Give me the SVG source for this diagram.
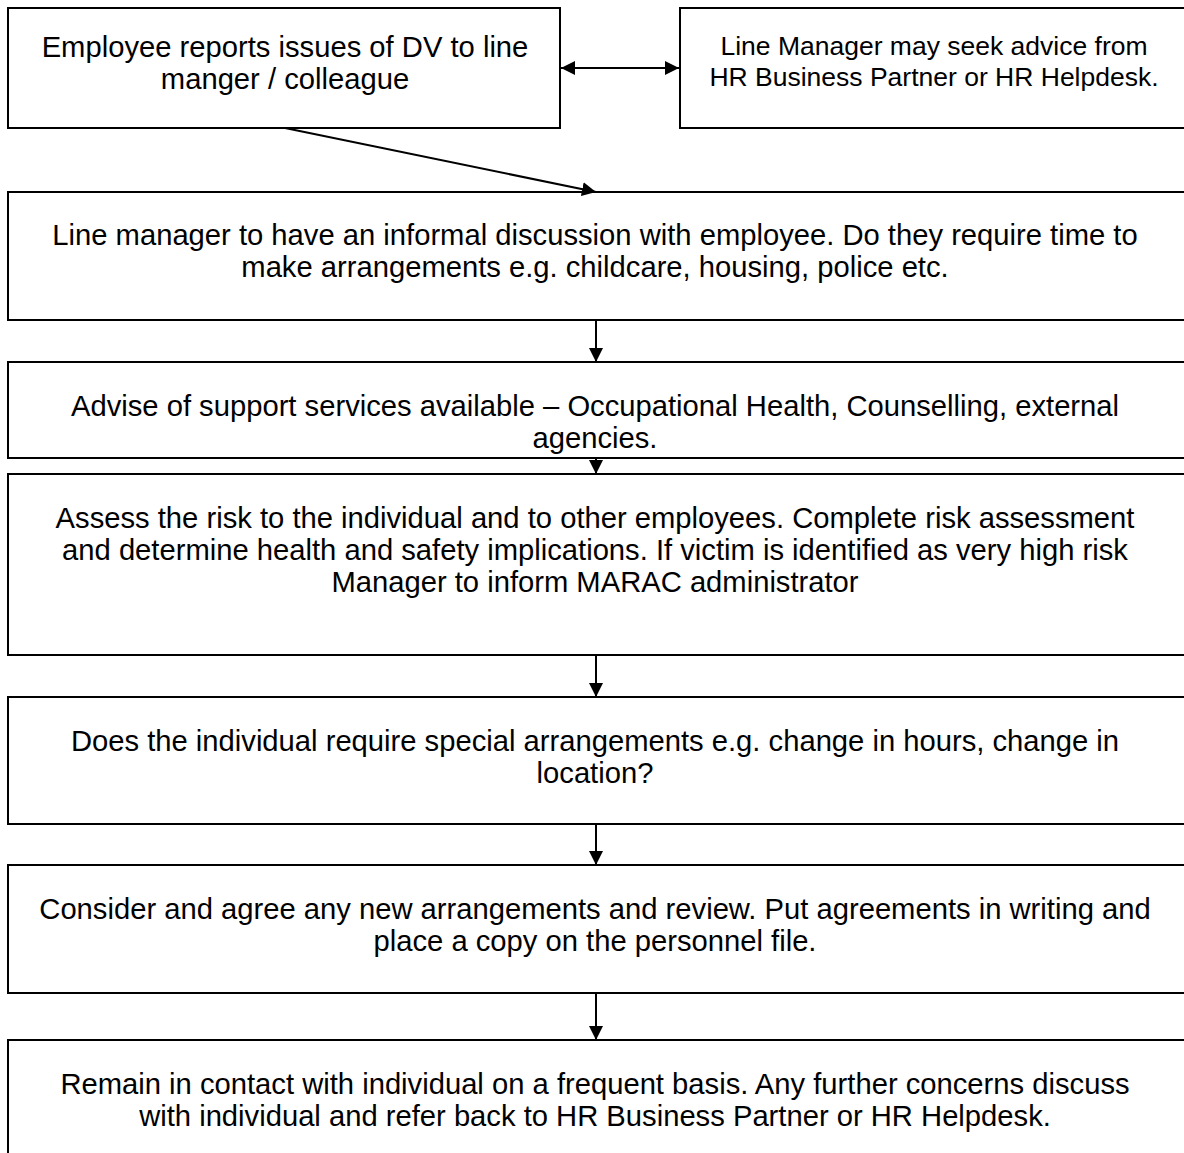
<svg xmlns="http://www.w3.org/2000/svg" width="1184" height="1153" viewBox="0 0 1184 1153">
<defs>
<marker id="ah" viewBox="0 0 10 10" refX="10" refY="5" markerWidth="14" markerHeight="14" markerUnits="userSpaceOnUse" orient="auto-start-reverse">
<path d="M0,0 L10,5 L0,10 z" fill="#000"/>
</marker>
<style>
rect{fill:#fff;stroke:#000;stroke-width:2}
text{font-family:"Liberation Sans",Arial,sans-serif;font-size:29.2px;fill:#000;text-anchor:middle}
.s{font-size:26.5px}
.c line{stroke:#000;stroke-width:2}
</style>
</defs>
<rect x="0" y="0" width="1184" height="1153" style="fill:#fff;stroke:none"/>
<g id="n1"><rect x="8" y="8" width="552" height="120"/><text x="285" y="57">Employee reports issues of DV to line</text><text x="285" y="89">manger / colleague</text></g>
<g id="n2"><rect x="680" y="8" width="520" height="120"/><text class="s" x="934" y="55">Line Manager may seek advice from</text><text class="s" x="934" y="86">HR Business Partner or HR Helpdesk.</text></g>
<g id="n3"><rect x="8" y="192" width="1200" height="128"/><text x="595" y="245">Line manager to have an informal discussion with employee. Do they require time to</text><text x="595" y="277">make arrangements e.g. childcare, housing, police etc.</text></g>
<g id="n4"><rect x="8" y="362" width="1200" height="96"/><text x="595" y="416">Advise of support services available – Occupational Health, Counselling, external</text><text x="595" y="448">agencies.</text></g>
<g id="n5"><rect x="8" y="474" width="1200" height="181"/><text x="595" y="528">Assess the risk to the individual and to other employees. Complete risk assessment</text><text x="595" y="560">and determine health and safety implications. If victim is identified as very high risk</text><text x="595" y="592">Manager to inform MARAC administrator</text></g>
<g id="n6"><rect x="8" y="697" width="1200" height="127"/><text x="595" y="751">Does the individual require special arrangements e.g. change in hours, change in</text><text x="595" y="783">location?</text></g>
<g id="n7"><rect x="8" y="865" width="1200" height="128"/><text x="595" y="919">Consider and agree any new arrangements and review. Put agreements in writing and</text><text x="595" y="951">place a copy on the personnel file.</text></g>
<g id="n8"><rect x="8" y="1040" width="1200" height="140"/><text x="595" y="1094">Remain in contact with individual on a frequent basis. Any further concerns discuss</text><text x="595" y="1126">with individual and refer back to HR Business Partner or HR Helpdesk.</text></g>
<g id="connectors" class="c">
<line x1="561" y1="68" x2="679" y2="68" marker-start="url(#ah)" marker-end="url(#ah)"/>
<line x1="285" y1="128" x2="596" y2="192" marker-end="url(#ah)"/>
<line x1="596" y1="320" x2="596" y2="362" marker-end="url(#ah)"/>
<line x1="596" y1="458" x2="596" y2="474" marker-end="url(#ah)"/>
<line x1="596" y1="655" x2="596" y2="697" marker-end="url(#ah)"/>
<line x1="596" y1="824" x2="596" y2="865" marker-end="url(#ah)"/>
<line x1="596" y1="993" x2="596" y2="1040" marker-end="url(#ah)"/>
</g>
</svg>
